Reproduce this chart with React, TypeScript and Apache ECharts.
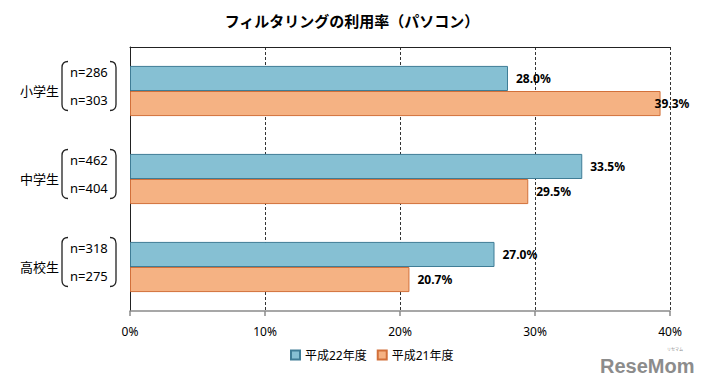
import React, { useEffect, useRef } from 'react';
import * as echarts from 'echarts';

const titleText = 'フィルタリングの利用率（パソコン）';
const categories = ['小学生', '中学生', '高校生'];
const seriesNames = ['平成22年度', '平成21年度'];
const nH22 = ['n=286', 'n=462', 'n=318'];
const nH21 = ['n=303', 'n=404', 'n=275'];
const valuesH22 = [28.0, 33.5, 27.0];
const valuesH21 = [39.3, 29.5, 20.7];
const xMin = 0;
const xMax = 40;
const xInterval = 10;

const FONT = "'Noto Sans', 'Noto Sans CJK JP', sans-serif";
const BLUE = '#86c0d3';
const BLUE_BORDER = '#3f7d96';
const ORANGE = '#f5b283';
const ORANGE_BORDER = '#d2703a';

echarts.graphic.registerShape('bracketL', echarts.graphic.extendPath('M6,0 Q0,0 0,6 L0,43 Q0,49 6,49', {}));
echarts.graphic.registerShape('bracketR', echarts.graphic.extendPath('M0,0 Q6,0 6,6 L6,43 Q6,49 0,49', {}));

export default function App() {
  const ref = useRef<HTMLDivElement>(null);
  useEffect(() => {
    document.body.style.margin = '0';
    const chart = echarts.init(ref.current!, null, { renderer: 'svg' });
    const labelStyle = {
      show: true,
      position: 'right',
      distance: 8,
      formatter: (p: any) => Number(p.value).toFixed(1) + '%',
      color: '#000',
      fontWeight: 'bold',
      fontSize: 12,
      fontFamily: FONT,
    };
    chart.setOption({
      animation: false,
      textStyle: { fontFamily: FONT },
      title: {
        text: titleText,
        left: 347,
        textAlign: 'center',
        top: 8,
        textStyle: { fontSize: 15, fontWeight: 'bold', color: '#000', fontFamily: FONT },
      },
      legend: {
        bottom: 18,
        left: 285,
        itemWidth: 9,
        itemHeight: 9,
        itemGap: 10,
        icon: 'rect',
        textStyle: { fontSize: 12, color: '#000', fontFamily: FONT },
        data: seriesNames,
      },
      grid: { left: 130, right: 36, top: 47, bottom: 73 },
      xAxis: [
        {
          type: 'value',
          min: xMin,
          max: xMax,
          interval: xInterval,
          position: 'bottom',
          axisLine: { show: true, lineStyle: { color: '#8a8a8a', width: 1.5 } },
          axisTick: { show: true, length: 5, lineStyle: { color: '#8a8a8a', width: 1.5 } },
          axisLabel: { formatter: '{value}%', color: '#000', fontSize: 12, margin: 14, fontFamily: FONT },
          splitLine: { show: true, lineStyle: { type: [3, 2], color: '#333', width: 1 } },
        },
        {
          type: 'value',
          min: xMin,
          max: xMax,
          interval: xInterval,
          position: 'top',
          axisLine: { show: true, lineStyle: { color: '#222', width: 1 } },
          axisTick: { show: false },
          axisLabel: { show: false },
          splitLine: { show: false },
        },
      ],
      yAxis: [
        {
          type: 'category',
          data: categories,
          inverse: true,
          axisLine: { show: false },
          axisTick: { show: false },
          axisLabel: { color: '#000', fontSize: 13, margin: 71, fontFamily: FONT, padding: [0, 0, 4, 0] },
        },
        {
          type: 'category',
          data: categories,
          inverse: true,
          position: 'right',
          axisLine: { show: true, lineStyle: { color: '#222', width: 1 } },
          axisTick: { show: false },
          axisLabel: { show: false },
        },
      ],
      series: [
        {
          name: seriesNames[0],
          type: 'bar',
          data: valuesH22,
          barGap: '0%',
          barCategoryGap: '43%',
          itemStyle: { color: BLUE, borderColor: BLUE_BORDER, borderWidth: 1 },
          label: labelStyle,
        },
        {
          name: seriesNames[1],
          type: 'bar',
          data: valuesH21.map((v) => (v > xMax - 2 ? { value: v, label: { distance: -6 } } : v)),
          barGap: '0%',
          barCategoryGap: '43%',
          itemStyle: { color: ORANGE, borderColor: ORANGE_BORDER, borderWidth: 1 },
          label: labelStyle,
        },
      ],
    });

    const graphics: any[] = [];
    categories.forEach((c, i) => {
      const cy = chart.convertToPixel({ yAxisIndex: 0 }, c) as number;
      const gy = cy - 5;
      graphics.push(
        { type: 'bracketL', x: 62, y: gy - 24.5, style: { stroke: '#222', fill: 'none', lineWidth: 1.3 } },
        { type: 'bracketR', x: 110, y: gy - 24.5, style: { stroke: '#222', fill: 'none', lineWidth: 1.3 } },
        {
          type: 'text', x: 70, y: gy - 14,
          style: { text: nH22[i], fill: '#000', font: `13px ${FONT}`, align: 'left', verticalAlign: 'middle' },
        },
        {
          type: 'text', x: 70, y: gy + 14,
          style: { text: nH21[i], fill: '#000', font: `13px ${FONT}`, align: 'left', verticalAlign: 'middle' },
        },
      );
    });
    graphics.push(
      {
        type: 'text', x: 600, y: 366,
        style: { text: 'ReseMom', fill: '#8c8c8c', font: `bold 20px 'Liberation Sans Narrow', 'Liberation Sans', sans-serif`, align: 'left', verticalAlign: 'middle' },
      },
      {
        type: 'text', x: 667, y: 349,
        style: { text: 'リセマム', fill: '#8c8c8c', font: `4px 'Noto Sans CJK JP'`, align: 'left', verticalAlign: 'middle' },
      },
    );
    chart.setOption({ graphic: graphics });

    return () => chart.dispose();
  }, []);
  return <div ref={ref} style={{ width: 706, height: 384 }} />;
}
